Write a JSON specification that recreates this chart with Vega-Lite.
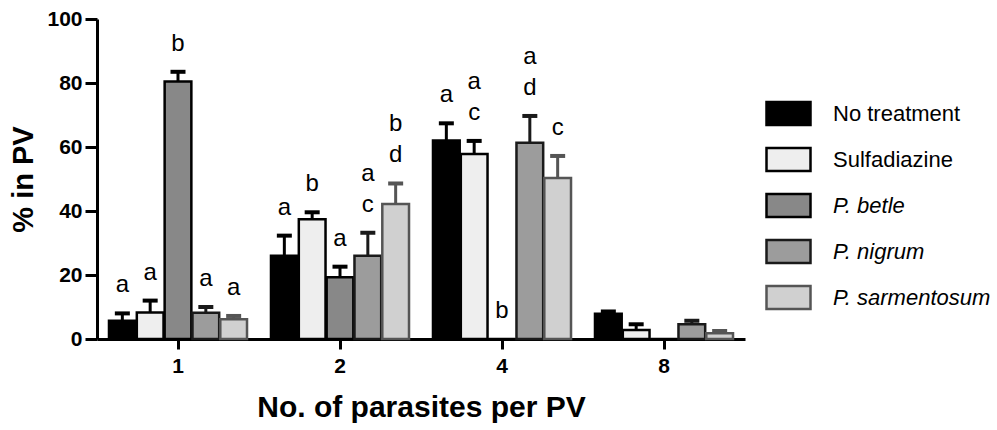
{
  "$schema": "https://vega.github.io/schema/vega-lite/v6.json",
  "autosize": "none",
  "width": 648,
  "height": 320,
  "padding": {"left": 97, "top": 19, "right": 252, "bottom": 91},
  "background": "white",
  "config": {
    "font": "Liberation Sans",
    "view": {"stroke": null},
    "axis": {
      "domainColor": "#000000",
      "domainWidth": 3,
      "tickColor": "#000000",
      "tickWidth": 3,
      "labelColor": "#000000",
      "labelFont": "Liberation Sans",
      "labelFontWeight": "bold",
      "labelFontSize": 21,
      "titleColor": "#000000",
      "titleFont": "Liberation Sans",
      "titleFontWeight": "bold",
      "grid": false
    }
  },
  "data": {
    "values": [
      {"group": "1", "treatment": "No treatment", "value": 5.7, "hi": 8.0, "lab_low": "a", "lab_up": ""},
      {"group": "1", "treatment": "Sulfadiazine", "value": 8.3, "hi": 12.0, "lab_low": "a", "lab_up": ""},
      {"group": "1", "treatment": "P. betle", "value": 80.5, "hi": 83.5, "lab_low": "b", "lab_up": ""},
      {"group": "1", "treatment": "P. nigrum", "value": 8.2, "hi": 10.0, "lab_low": "a", "lab_up": ""},
      {"group": "1", "treatment": "P. sarmentosum", "value": 6.2, "hi": 7.2, "lab_low": "a", "lab_up": ""},
      {"group": "2", "treatment": "No treatment", "value": 26.0, "hi": 32.3, "lab_low": "a", "lab_up": ""},
      {"group": "2", "treatment": "Sulfadiazine", "value": 37.4, "hi": 39.6, "lab_low": "b", "lab_up": ""},
      {"group": "2", "treatment": "P. betle", "value": 19.3, "hi": 22.6, "lab_low": "a", "lab_up": ""},
      {"group": "2", "treatment": "P. nigrum", "value": 26.0, "hi": 33.2, "lab_low": "c", "lab_up": "a"},
      {"group": "2", "treatment": "P. sarmentosum", "value": 42.2, "hi": 48.6, "lab_low": "d", "lab_up": "b"},
      {"group": "4", "treatment": "No treatment", "value": 62.0, "hi": 67.4, "lab_low": "a", "lab_up": ""},
      {"group": "4", "treatment": "Sulfadiazine", "value": 57.8, "hi": 61.9, "lab_low": "c", "lab_up": "a"},
      {"group": "4", "treatment": "P. betle", "value": 0, "hi": 0, "lab_low": "b", "lab_up": ""},
      {"group": "4", "treatment": "P. nigrum", "value": 61.3, "hi": 69.7, "lab_low": "d", "lab_up": "a"},
      {"group": "4", "treatment": "P. sarmentosum", "value": 50.3, "hi": 57.2, "lab_low": "c", "lab_up": ""},
      {"group": "8", "treatment": "No treatment", "value": 7.9, "hi": 8.6, "lab_low": "", "lab_up": ""},
      {"group": "8", "treatment": "Sulfadiazine", "value": 2.8, "hi": 4.6, "lab_low": "", "lab_up": ""},
      {"group": "8", "treatment": "P. betle", "value": 0, "hi": 0, "lab_low": "", "lab_up": ""},
      {"group": "8", "treatment": "P. nigrum", "value": 4.6, "hi": 5.7, "lab_low": "", "lab_up": ""},
      {"group": "8", "treatment": "P. sarmentosum", "value": 1.8, "hi": 2.5, "lab_low": "", "lab_up": ""}
    ]
  },
  "encoding": {
    "x": {
      "field": "group", "type": "ordinal",
      "scale": {"paddingInner": 0.148, "paddingOuter": 0.074},
      "axis": {"title": "No. of parasites per PV", "labelAngle": 0, "tickSize": 10, "labelPadding": 6, "titleFontSize": 30, "titlePadding": 16}
    },
    "xOffset": {
      "field": "treatment", "type": "nominal",
      "sort": ["No treatment", "Sulfadiazine", "P. betle", "P. nigrum", "P. sarmentosum"],
      "scale": {"paddingInner": 0.04, "paddingOuter": 0}
    }
  },
  "layer": [
    {
      "mark": {"type": "bar", "strokeWidth": 2.5},
      "encoding": {
        "y": {
          "field": "value", "type": "quantitative",
          "scale": {"domain": [0, 100], "nice": false},
          "axis": {"title": "% in PV", "values": [0, 20, 40, 60, 80, 100], "tickSize": 12, "labelPadding": 3, "titleFontSize": 29, "titlePadding": 8}
        },
        "fill": {
          "field": "treatment", "type": "nominal",
          "scale": {
            "domain": ["No treatment", "Sulfadiazine", "P. betle", "P. nigrum", "P. sarmentosum"],
            "range": ["#000000", "#eeeeee", "#888888", "#9c9c9c", "#d0d0d0"]
          },
          "legend": {
            "title": null,
            "orient": "none",
            "legendX": 668,
            "legendY": 71,
            "padding": 0,
            "symbolType": "M-1,-0.52H1V0.52H-1Z",
            "symbolSize": 1936,
            "symbolStrokeWidth": 2.5,
            "symbolOpacity": 1,
            "labelFont": "Liberation Sans",
            "labelFontSize": 22,
            "labelColor": "#000000",
            "labelOffset": 21,
            "labelLimit": 300,
            "rowPadding": 6,
            "encode": {
              "labels": {
                "update": {
                  "fontStyle": {"signal": "datum.value === 'No treatment' || datum.value === 'Sulfadiazine' ? 'normal' : 'italic'"}
                }
              }
            }
          }
        },
        "stroke": {
          "field": "treatment", "type": "nominal",
          "scale": {
            "domain": ["No treatment", "Sulfadiazine", "P. betle", "P. nigrum", "P. sarmentosum"],
            "range": ["#000000", "#000000", "#000000", "#1a1a1a", "#555555"]
          },
          "legend": {
            "title": null,
            "orient": "none",
            "legendX": 668,
            "legendY": 71,
            "padding": 0,
            "symbolType": "M-1,-0.52H1V0.52H-1Z",
            "symbolSize": 1936,
            "symbolStrokeWidth": 2.5,
            "labelFont": "Liberation Sans",
            "labelFontSize": 22,
            "labelColor": "#000000",
            "labelOffset": 21,
            "labelLimit": 300,
            "rowPadding": 6
          }
        }
      }
    },
    {
      "transform": [{"filter": "datum.hi > datum.value"}],
      "mark": {"type": "rule", "strokeWidth": 3},
      "encoding": {
        "y": {"field": "value", "type": "quantitative"},
        "y2": {"field": "hi"},
        "color": {
          "field": "treatment", "type": "nominal",
          "scale": {
            "domain": ["No treatment", "Sulfadiazine", "P. betle", "P. nigrum", "P. sarmentosum"],
            "range": ["#000000", "#000000", "#000000", "#1a1a1a", "#555555"]
          },
          "legend": null
        }
      }
    },
    {
      "transform": [{"filter": "datum.hi > datum.value"}],
      "mark": {"type": "tick", "size": 15, "thickness": 4, "opacity": 1},
      "encoding": {
        "y": {"field": "hi", "type": "quantitative"},
        "color": {"field": "treatment", "type": "nominal", "legend": null}
      }
    },
    {
      "mark": {"type": "text", "fontSize": 24, "baseline": "bottom", "align": "center", "dy": -16, "color": "#000000", "font": "Liberation Sans"},
      "encoding": {
        "y": {"field": "hi", "type": "quantitative"},
        "text": {"field": "lab_low"}
      }
    },
    {
      "mark": {"type": "text", "fontSize": 24, "baseline": "bottom", "align": "center", "dy": -47, "color": "#000000", "font": "Liberation Sans"},
      "encoding": {
        "y": {"field": "hi", "type": "quantitative"},
        "text": {"field": "lab_up"}
      }
    }
  ]
}
